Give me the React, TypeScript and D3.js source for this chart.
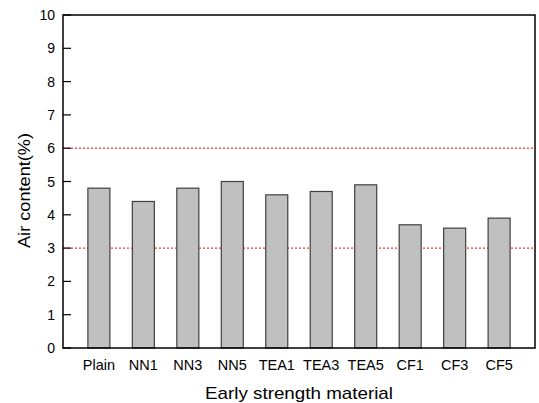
import React from "react";
import * as d3 from "d3";

const categories = ["Plain", "NN1", "NN3", "NN5", "TEA1", "TEA3", "TEA5", "CF1", "CF3", "CF5"];
const airContent = [4.8, 4.4, 4.8, 5.0, 4.6, 4.7, 4.9, 3.7, 3.6, 3.9];
const yTicks = [0, 1, 2, 3, 4, 5, 6, 7, 8, 9, 10];
const refLines = [3, 6];

const W = 539, H = 403;
const L = 63, R = 535, T = 15, B = 348;
const FONT = "'Liberation Sans', Arial, sans-serif";

export default function App() {
  const x = d3.scalePoint<string>().domain(categories).range([L, R]).padding(0.807);
  const y = d3.scaleLinear().domain([0, 10]).range([B, T]);
  const bw = 22;
  return (
    <svg width={W} height={H} style={{ position: "absolute", left: 0, top: 0 }}>
      <rect x={0} y={0} width={W} height={H} fill="#fff" />
      {refLines.map((v) => (
        <line key={v} x1={L} x2={R} y1={y(v)} y2={y(v)} stroke="#ff0000" strokeWidth={1} strokeDasharray="2,2" />
      ))}
      {categories.map((c, i) => (
        <rect key={c} x={(x(c) as number) - bw / 2} y={y(airContent[i])} width={bw} height={B - y(airContent[i])}
          fill="#c0c0c0" stroke="#404040" strokeWidth={1.2} />
      ))}
      <rect x={L} y={T} width={R - L} height={B - T} fill="none" stroke="#000" strokeWidth={1.5} />
      {yTicks.map((t) => (
        <g key={t}>
          <line x1={L} x2={L + 8} y1={y(t)} y2={y(t)} stroke="#000" strokeWidth={1.2} />
          <text x={55} y={y(t)} dy="0.36em" textAnchor="end" fontFamily={FONT} fontSize={14} fill="#000">{t}</text>
        </g>
      ))}
      {categories.map((c) => (
        <text key={c} x={x(c) as number} y={370} textAnchor="middle" fontFamily={FONT} fontSize={14.5} fill="#000">{c}</text>
      ))}
      <text x={299} y={399} textAnchor="middle" fontFamily={FONT} fontSize={17} textLength={188} lengthAdjust="spacingAndGlyphs" fill="#000">Early strength material</text>
      <text transform={`translate(30,190.5) rotate(-90)`} textAnchor="middle" fontFamily={FONT} fontSize={16.5} textLength={115} lengthAdjust="spacingAndGlyphs" fill="#000">Air content(%)</text>
    </svg>
  );
}
